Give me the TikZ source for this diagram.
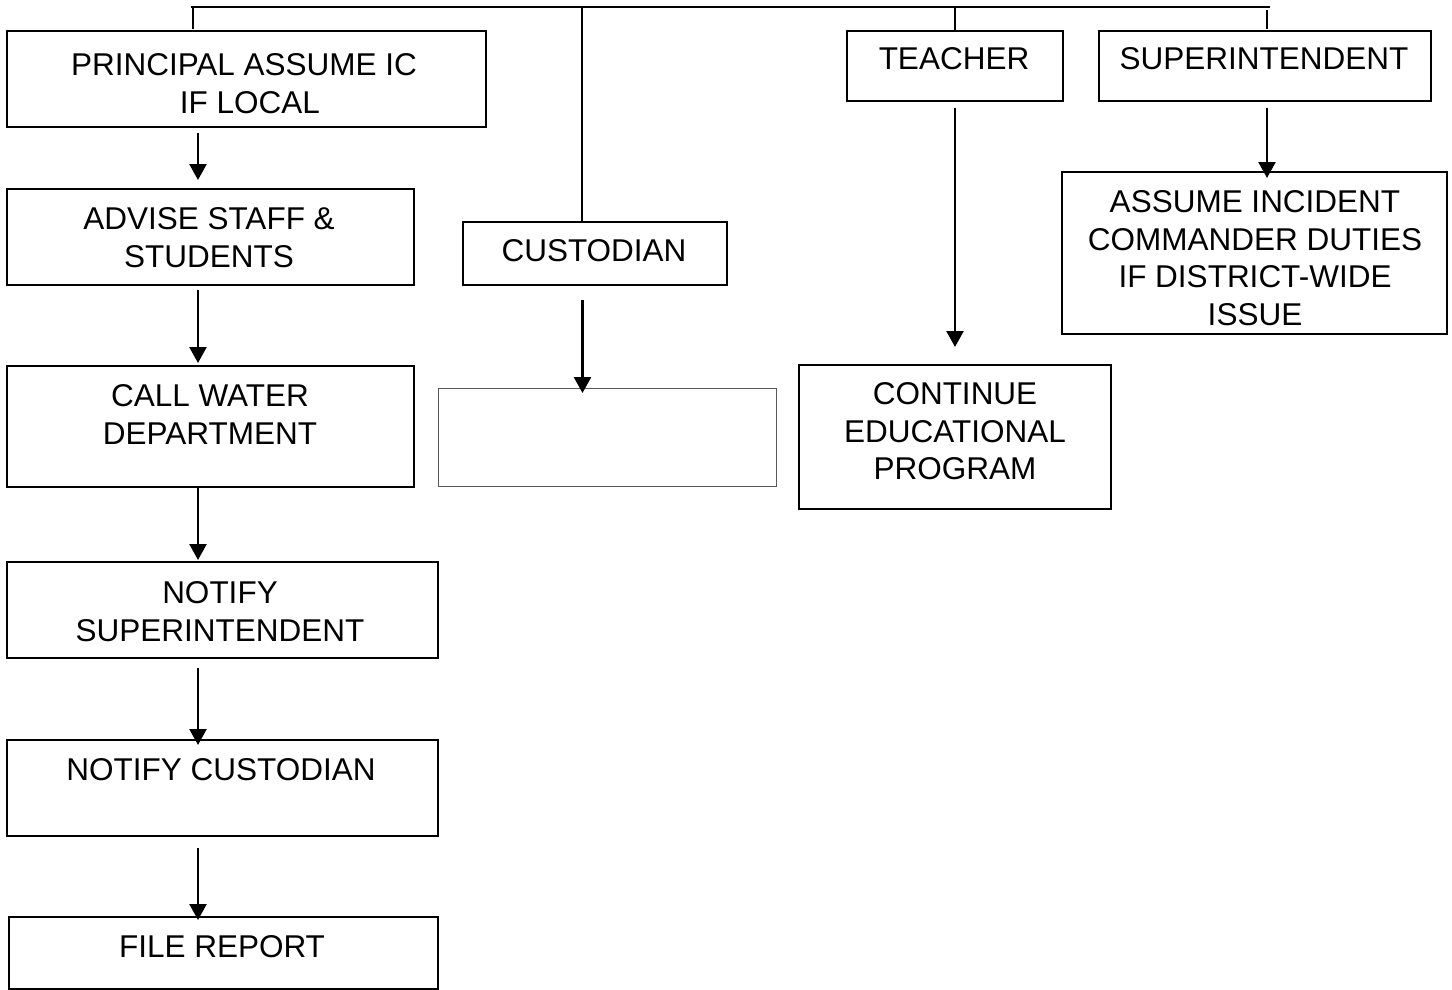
\documentclass[tikz,border=0pt]{standalone}
\usepackage{fontspec}
\setmainfont{Liberation Sans}
\usetikzlibrary{arrows.meta}
\begin{document}
\begin{tikzpicture}[x=1pt,y=-1pt,
  box/.style={draw=black,line width=2pt,rectangle,inner sep=0pt,outer sep=0pt},
  thinbox/.style={draw=black!65,line width=1pt,rectangle,inner sep=0pt,outer sep=0pt},
  txt/.style={font=\fontsize{31.5}{37.5}\selectfont,align=center,inner sep=0pt},
  bus/.style={line width=2pt},
  flow/.style={line width=2.5pt,-{Triangle[length=16pt,width=17pt]}}]
\useasboundingbox (0,0) rectangle (1452,990);

% boxes
\node[box,minimum width=479pt,minimum height=96pt] (principal) at (246.5,79) {};
\node[box,minimum width=407pt,minimum height=96pt] (advise) at (210.5,237) {};
\node[box,minimum width=407pt,minimum height=121pt] (water) at (210.5,426.5) {};
\node[box,minimum width=431pt,minimum height=96pt] (notsup) at (222.5,610) {};
\node[box,minimum width=431pt,minimum height=96pt] (notcust) at (222.5,788) {};
\node[box,minimum width=429pt,minimum height=72pt] (file) at (223.5,953) {};
\node[box,minimum width=264pt,minimum height=63pt] (custodian) at (595,253.5) {};
\node[thinbox,minimum width=338pt,minimum height=98pt] (blank) at (607,437) {};
\node[box,minimum width=216pt,minimum height=70pt] (teacher) at (955,66) {};
\node[box,minimum width=332pt,minimum height=70pt] (supt) at (1265,66) {};
\node[box,minimum width=385pt,minimum height=162pt] (assume) at (1254.5,253) {};
\node[box,minimum width=312pt,minimum height=144pt] (continue) at (955,437) {};

% labels
\node[txt] (principal-t) at (244,83.5) {PRINCIPAL ASSUME IC\\\hspace*{12pt}IF LOCAL};
\node[txt] (advise-t) at (209,237.5) {ADVISE STAFF \&\\STUDENTS};
\node[txt] (water-t) at (210,414.5) {CALL WATER\\DEPARTMENT};
\node[txt] (notsup-t) at (220,611.5) {NOTIFY\\SUPERINTENDENT};
\node[txt] (notcust-t) at (221,769.5) {NOTIFY CUSTODIAN};
\node[txt] (file-t) at (222,947) {FILE REPORT};
\node[txt] (custodian-t) at (594,251) {CUSTODIAN};
\node[txt] (teacher-t) at (954,59) {TEACHER};
\node[txt] (supt-t) at (1264,58.5) {SUPERINTENDENT};
\node[txt] (assume-t) at (1255,258) {ASSUME INCIDENT\\COMMANDER DUTIES\\IF DISTRICT-WIDE\\ISSUE};
\node[txt] (continue-t) at (955,431.5) {CONTINUE\\EDUCATIONAL\\PROGRAM};

% top distribution line and drops
\coordinate (busL) at (191,7);
\coordinate (busR) at (1270,7);
\coordinate (dropA) at (193,7);
\coordinate (dropB) at (582,7);
\coordinate (dropC) at (955,7);
\coordinate (dropD) at (1267,10);
\draw[bus] (busL) -- (busR);
\draw[bus] (dropA) -- ([yshift=2pt]principal.north -| dropA);
\draw[bus] (dropB) -- (custodian.north -| dropB);
\draw[bus] (dropC) -- (teacher.north -| dropC);
\draw[bus] (dropD) -- ([yshift=2pt]supt.north -| dropD);

% flow arrows
\coordinate (colA) at (198,0);
\coordinate (colB) at (582.5,0);
\coordinate (colC) at (955,0);
\coordinate (colD) at (1267,0);
\draw[flow,shorten <=6pt,shorten >=9pt] (principal.south -| colA) -- (advise.north -| colA);
\draw[flow,shorten <=5pt,shorten >=3pt] (advise.south -| colA) -- (water.north -| colA);
\draw[flow,shorten <=1pt,shorten >=2pt] (water.south -| colA) -- (notsup.north -| colA);
\draw[flow,shorten <=10pt,shorten >=-5pt] (notsup.south -| colA) -- (notcust.north -| colA);
\draw[flow,shorten <=12pt,shorten >=-3pt] (notcust.south -| colA) -- (file.north -| colA);
\draw[flow,shorten <=15pt,shorten >=-5pt] (custodian.south -| colB) -- (blank.north -| colB);
\draw[flow,shorten <=7pt,shorten >=18pt] (teacher.south -| colC) -- (continue.north -| colC);
\draw[flow,shorten <=7pt,shorten >=-6pt] (supt.south -| colD) -- (assume.north -| colD);
\end{tikzpicture}
\end{document}
